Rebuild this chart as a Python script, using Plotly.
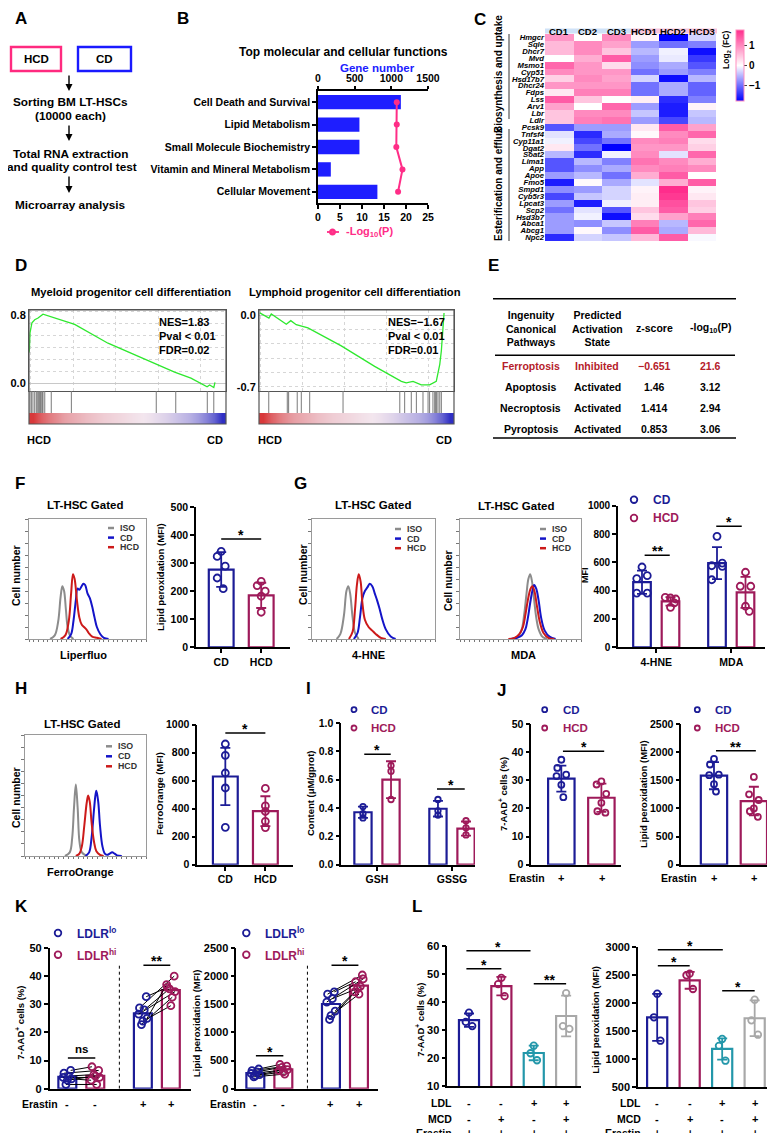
import plotly.graph_objects as go

# ======================= DATA =======================
# Panel B
b_functions = ["Cell Death and Survival", "Lipid Metabolism", "Small Molecule Biochemistry",
               "Vitamin and Mineral Metabolism", "Cellular Movement"]
b_gene_number = [1130, 565, 565, 175, 810]
b_neglog10_p = [17.9, 17.9, 17.8, 19.2, 18.2]

# Panel C
c_samples = ["CD1", "CD2", "CD3", "HCD1", "HCD2", "HCD3"]
c_genes = ["Hmgcr", "Sqle", "Dhcr7", "Mvd", "Msmo1", "Cyp51", "Hsd17b7", "Dhcr24", "Fdps", "Lss",
           "Arv1", "Lbr", "Ldlr", "Pcsk9", "Tnfsf4", "Cyp11a1", "Dgat2", "Soat2", "Lima1", "App",
           "Apoe", "Fmo5", "Smpd1", "Cyb5r3", "Lpcat3", "Scp2", "Hsd3b7", "Abca1", "Abcg1", "Npc2"]
c_log2fc = [
    [0.9, 0.0, 1.0, 0.1, -1.8, -0.3],
    [0.6, 1.0, 0.8, -0.7, -1.0, -0.9],
    [0.6, 1.0, 0.5, -0.5, -0.1, -1.7],
    [0.0, 0.7, 1.4, -0.7, -0.15, -1.4],
    [1.3, 0.9, 0.3, -0.8, -0.6, -1.2],
    [1.0, 0.9, 0.9, -1.0, -0.7, -0.9],
    [0.4, 1.0, 0.8, -0.3, -1.7, -0.5],
    [0.9, 0.9, 0.9, -1.0, -0.6, -1.1],
    [0.2, 1.1, 1.1, -1.0, -0.6, -1.1],
    [1.4, 0.5, 0.0, 0.15, -1.5, -0.9],
    [0.8, 0.0, 1.3, -0.7, -1.6, 0.1],
    [0.5, 1.0, 1.0, -0.4, -1.6, -0.4],
    [0.5, 1.1, 1.2, -0.7, -1.3, -0.5],
    [-1.2, -0.7, -0.7, 0.2, 1.4, 0.8],
    [-0.2, -1.5, -0.6, 0.05, 1.0, 1.3],
    [-0.1, -1.3, -1.0, 1.0, 1.1, 0.3],
    [0.2, -1.0, -1.8, 0.9, 0.9, 0.4],
    [-0.5, -1.5, -0.1, 1.0, -0.2, 1.3],
    [-1.2, -0.5, -0.9, 1.2, 1.0, 0.7],
    [-1.2, -0.8, -0.6, 1.0, 1.1, 1.0],
    [-0.7, -0.5, -1.0, 0.7, 1.4, 0.0],
    [-1.6, 0.05, -0.6, -0.2, 0.7, 1.4],
    [-0.8, -0.7, -0.3, 0.1, 1.8, 0.1],
    [-1.3, -0.4, -0.3, 0.15, 1.7, 0.2],
    [-0.7, -1.6, -0.1, 0.15, 1.5, 0.5],
    [-1.0, -0.2, -1.2, 0.5, 1.4, 0.4],
    [-0.7, -0.1, -1.7, 0.3, 0.8, 1.1],
    [-0.7, -0.8, -0.4, 1.1, -0.5, 1.3],
    [-0.7, 0.05, -0.8, 1.4, -0.6, 0.6],
    [-1.5, -0.3, -0.4, 0.6, 1.4, -0.05],
]

# Panel D (GSEA)
d_myeloid_rank = [0, 0.2, 0.5, 1.5, 2.9, 4.6, 7.1, 9.6, 12.2, 16.2, 23.2, 40.1, 56.9, 73.9, 82.2, 90.4, 91.7, 93.8, 94.4]
d_myeloid_es = [0.36, 0.39, 0.59, 0.71, 0.745, 0.765, 0.81, 0.79, 0.775, 0.745, 0.69, 0.47, 0.30, 0.13, 0.06, -0.04, -0.02, -0.05, 0.01]
d_myeloid_hits = [0.5, 1.2, 2.0, 2.9, 3.7, 4.2, 4.9, 5.4, 5.9, 6.2, 6.8, 7.1, 8.0, 11.3, 21.5, 64.6, 74.5, 90.5, 93.8]
d_lymphoid_rank = [0.4, 5.1, 6.3, 14.0, 16.3, 19.1, 25.1, 42.2, 59.3, 73.0, 75.5, 79.0, 83.2, 87.5, 90.9, 92.7, 93.5, 94.4, 94.9]
d_lymphoid_es = [0.02, -0.03, 0.01, -0.09, -0.055, -0.094, -0.126, -0.30, -0.50, -0.645, -0.66, -0.645, -0.68, -0.68, -0.645, -0.48, -0.35, -0.13, 0.02]
d_lymphoid_hits = [5.0, 14.5, 15.2, 19.6, 21.7, 26.0, 43.1, 72.2, 74.7, 78.1, 80.7, 84.1, 86.7, 87.5, 89.2,
                   90.1, 90.6, 91.1, 91.8, 92.7, 93.5]
d_ranked_metric = [3.0, 2.4, 2.0, 1.7, 1.4, 1.2, 1.0, 0.8, 0.65, 0.5, 0.4, 0.3, 0.2, 0.1, 0.0, -0.1,
                   -0.25, -0.4, -0.6, -0.8, -1.0, -1.3, -1.7, -2.2, -3.0]
d_myeloid_stats = ["NES=1.83", "Pval &lt; 0.01", "FDR=0.02"]
d_lymphoid_stats = ["NES=\u22121.67", "Pval &lt; 0.01", "FDR=0.01"]

# Panel E
e_columns = ["Ingenuity<br>Canonical<br>Pathways", "Predicted<br>Activation<br>State", "z-score", "-log<sub>10</sub>(P)"]
e_pathways = ["Ferroptosis", "Apoptosis", "Necroptosis", "Pyroptosis"]
e_state = ["Inhibited", "Activated", "Activated", "Activated"]
e_zscore = ["\u22120.651", "1.46", "1.414", "0.853"]
e_log10p = ["21.6", "3.12", "2.94", "3.06"]

# Flow histograms (x: relative log fluorescence, y: % of max)
f_iso_x = [18, 22, 25, 27, 28.5, 30, 31.5, 33, 35, 38]
f_iso_y = [0, 3, 15, 35, 44, 40, 25, 10, 3, 0]
f_cd_x = [33, 36, 38, 40, 41.5, 43, 45, 46.5, 48, 50, 52, 54, 56, 58, 61, 64, 68]
f_cd_y = [0, 4, 15, 32, 42, 41, 44, 46, 45, 38, 34, 27, 18, 10, 4, 1, 0]
f_hcd_x = [27, 31, 34, 36, 37.6, 39, 41, 43, 45, 47, 49, 51, 54, 58, 62]
f_hcd_y = [0, 3, 15, 38, 54, 50, 32, 18, 12, 10, 8, 5, 2, 1, 0]

g_hne_iso_x = [20, 23, 26, 28, 29.5, 31, 33, 35, 38]
g_hne_iso_y = [0, 4, 20, 40, 44, 38, 18, 5, 0]
g_hne_cd_x = [34, 37, 39, 41, 43, 45, 47, 49, 51, 53, 55, 57, 60, 64, 68]
g_hne_cd_y = [0, 5, 18, 34, 40, 43, 46, 44, 38, 32, 25, 17, 8, 2, 0]
g_hne_hcd_x = [30, 33, 35, 36.5, 38, 39.5, 41, 43, 46, 49, 52, 56, 60]
g_hne_hcd_y = [0, 6, 25, 45, 54, 48, 30, 16, 10, 7, 4, 1, 0]

g_mda_iso_x = [44, 48, 51, 53, 55, 56.5, 58, 59.5, 61, 63, 65, 68, 72]
g_mda_iso_y = [0, 2, 8, 20, 38, 50, 54, 48, 35, 18, 8, 2, 0]
g_mda_cd_x = [42, 47, 51, 54, 56, 58, 60, 61.3, 63, 65, 67, 70, 74, 79]
g_mda_cd_y = [0, 1, 3, 8, 17, 30, 41, 45, 42, 32, 18, 7, 2, 0]
g_mda_hcd_x = [40, 45, 49, 52, 54, 56, 58, 59.7, 61.5, 63.5, 66, 69, 73, 78]
g_mda_hcd_y = [0, 1, 4, 10, 20, 32, 41, 44, 40, 28, 14, 5, 1, 0]

h_iso_x = [33, 37, 39, 40.5, 42, 43.5, 45, 47, 51]
h_iso_y = [0, 3, 15, 40, 59, 40, 12, 3, 0]
h_cd_x = [50, 53, 55, 57, 58.2, 59, 60.5, 62, 64, 66, 68, 70, 72, 74, 76, 80]
h_cd_y = [0, 3, 15, 38, 50, 54, 45, 25, 8, 2, 1, 2, 3, 2, 0.5, 0]
h_hcd_x = [42, 45, 47, 49, 51, 52.2, 53.5, 55, 57, 59, 62, 65]
h_hcd_y = [0, 2, 8, 25, 44, 50, 45, 28, 12, 4, 1, 0]

# Panel F bars: lipid peroxidation (MFI)
f_groups = ["CD", "HCD"]
f_mean = [277, 185]
f_sd = [62, 45]
f_cd_pts = [342, 324, 289, 247, 209]
f_hcd_pts = [235, 220, 200, 182, 125]

# Panel G bars: MFI
g_markers = ["4-HNE", "MDA"]
g_cd_mean = [460, 595]
g_cd_sd = [82, 113]
g_hcd_mean = [325, 388]
g_hcd_sd = [30, 109]
g_cd_pts = [[567, 485, 506, 383, 383], [784, 576, 595, 477, 572]]
g_hcd_pts = [[348, 353, 341, 282, 313], [530, 431, 431, 290, 254]]

# Panel H bars: FerroOrange (MFI)
h_groups = ["CD", "HCD"]
h_mean = [630, 382]
h_sd = [205, 107]
h_cd_pts = [862, 781, 655, 548, 267]
h_hcd_pts = [545, 420, 380, 310, 265]

# Panel I: content (uM/gprot)
i_metabolites = ["GSH", "GSSG"]
i_cd_mean = [0.37, 0.395]
i_cd_sd = [0.04, 0.055]
i_hcd_mean = [0.60, 0.255]
i_hcd_sd = [0.13, 0.05]
i_cd_pts = [[0.41, 0.36, 0.33], [0.46, 0.38, 0.35]]
i_hcd_pts = [[0.70, 0.66, 0.46], [0.31, 0.26, 0.21]]

# Panel J (Erastin treated)
j_aad_mean = [30.6, 23.8]
j_aad_sd = [4.6, 5.0]
j_aad_cd = [37.3, 34.4, 32.0, 31.5, 28.4, 24.0]
j_aad_hcd = [29.6, 28.5, 25.2, 22.0, 19.0, 18.5]
j_lip_mean = [1581, 1130]
j_lip_sd = [240, 255]
j_lip_cd = [1880, 1780, 1600, 1590, 1430, 1300]
j_lip_hcd = [1560, 1250, 1150, 1000, 950, 850]

# Panel K (paired LDLR lo / hi)
k_erastin = ["-", "-", "+", "+"]
k_aad_mean = [4.2, 4.6, 26.8, 35.0]
k_aad_lo_minus = [6.5, 5.5, 4.5, 4.0, 3.5, 3.0, 1.5]
k_aad_hi_minus = [7.8, 6.5, 5.0, 4.0, 3.0, 4.5, 1.5]
k_aad_lo_plus = [32.7, 28.7, 28.0, 26.5, 25.0, 24.0, 22.8]
k_aad_hi_plus = [36.0, 40.0, 35.5, 34.5, 37.0, 29.5, 32.5]
k_lip_mean = [275, 345, 1505, 1830]
k_lip_lo_minus = [350, 320, 300, 270, 250, 230, 210]
k_lip_hi_minus = [430, 400, 380, 340, 320, 300, 260]
k_lip_lo_plus = [1720, 1680, 1600, 1540, 1380, 1300, 1230]
k_lip_hi_plus = [1900, 2020, 1780, 1950, 1720, 1680, 1820]

# Panel L
l_ldl = ["-", "-", "+", "+"]
l_mcd = ["-", "+", "-", "+"]
l_erastin = ["+", "+", "+", "+"]
l_aad_mean = [33.6, 45.8, 21.9, 35.1]
l_aad_sd = [2.4, 3.3, 2.6, 7.3]
l_aad_pts = [[36.3, 33.0, 31.5], [48.7, 46.5, 42.2], [24.5, 21.8, 19.3], [43.3, 31.5, 30.5]]
l_lip_mean = [1750, 2410, 1185, 1733]
l_lip_sd = [420, 150, 190, 320]
l_lip_pts = [[2171, 1750, 1332], [2529, 2500, 2255], [1363, 1240, 975], [2064, 1696, 1439]]

# ======================= STYLE / HELPERS =======================
W, H = 775, 1133
FONT = "Liberation Sans, Arial, Helvetica, sans-serif"
NAVY = "#1c1c96"
MAROON = "#9e1a5a"
TEAL = "#2397aa"
GREY = "#a8a8a8"
H_ISO, H_CD, H_HCD = "#8c8c8c", "#1414c8", "#cc1a1a"
L_COLORS = [NAVY, MAROON, TEAL, GREY]
TICK_FS = 10.5
YT_FS = 9.5

fig = go.Figure()
annotations, shapes, axes = [], [], {}
counter = [0]


def px_x(p):
    return p / W


def px_y(p):
    return 1 - p / H


def add_axes(xpx, ypx, xkw, ykw):
    counter[0] += 1
    n = counter[0]
    s = "" if n == 1 else str(n)
    xk, yk = dict(xkw), dict(ykw)
    xk.update(domain=[px_x(xpx[0]), px_x(xpx[1])], anchor="y" + s)
    yk.update(domain=[px_y(ypx[1]), px_y(ypx[0])], anchor="x" + s)
    axes["xaxis" + s] = xk
    axes["yaxis" + s] = yk
    return "x" + s, "y" + s


def txt(x, y, s, size=10, color="black", xa="center", ya="middle", angle=0, bold=True):
    annotations.append(dict(x=px_x(x), y=px_y(y), xref="paper", yref="paper",
                            text=f"<b>{s}</b>" if bold else s, showarrow=False,
                            font=dict(family=FONT, size=size, color=color),
                            xanchor=xa, yanchor=ya, textangle=angle))


def pline(x0, y0, x1, y1, color="black", width=1.5, dash=None):
    shapes.append(dict(type="line", xref="paper", yref="paper", x0=px_x(x0), y0=px_y(y0),
                       x1=px_x(x1), y1=px_y(y1), line=dict(color=color, width=width, dash=dash)))


def prect(x0, y0, x1, y1, color, width=2, fill="rgba(0,0,0,0)"):
    shapes.append(dict(type="rect", xref="paper", yref="paper", x0=px_x(x0), y0=px_y(y1),
                       x1=px_x(x1), y1=px_y(y0), line=dict(color=color, width=width), fillcolor=fill))


def pcircle(x, y, r, color, width=1.8):
    shapes.append(dict(type="circle", xref="paper", yref="paper", x0=px_x(x - r), y0=px_y(y + r),
                       x1=px_x(x + r), y1=px_y(y - r), line=dict(color=color, width=width)))


def base_axis(**kw):
    d = dict(showgrid=False, zeroline=False, showline=True, linecolor="black", linewidth=1.6,
             ticks="outside", ticklen=4, tickwidth=1.6, tickcolor="black",
             tickfont=dict(family=FONT, size=TICK_FS, color="black", weight="bold"), fixedrange=True)
    d.update(kw)
    return d


def bar_axes(xpx, ypx, xrange, yrange, dtick, tickvals=None, ticktext=None, yfmt=None, tfs=TICK_FS):
    xk = base_axis(range=xrange, tickvals=tickvals or [], ticktext=ticktext or [],
                   showticklabels=bool(tickvals), ticks="outside" if tickvals else "")
    yk = base_axis(range=yrange, dtick=dtick, tickformat=yfmt,
                   tickfont=dict(family=FONT, size=tfs, color="black", weight="bold"))
    return add_axes(xpx, ypx, xk, yk)


def add_bar(xa, ya, x, mean, sd, color, width, pts=None, jit=None, msize=7, errw=5):
    fig.add_trace(go.Bar(x=[x], y=[mean], width=width,
                         marker=dict(color="rgba(255,255,255,0)", line=dict(color=color, width=2.2)),
                         error_y=dict(type="data", array=[sd] if sd is not None else [0],
                                      visible=sd is not None, color=color, thickness=1.8, width=errw),
                         xaxis=xa, yaxis=ya, showlegend=False, hoverinfo="skip"))
    if pts:
        jit = jit or [0] * len(pts)
        fig.add_trace(go.Scatter(x=[x + j for j in jit[:len(pts)]], y=pts, mode="markers",
                                 marker=dict(symbol="circle-open", size=msize, color=color,
                                             line=dict(width=1.8)),
                                 xaxis=xa, yaxis=ya, showlegend=False, hoverinfo="skip",
                                 cliponaxis=False))


def sig(xa, ya, x0, x1, yv, label, size=14, shift=-6):
    shapes.append(dict(type="line", xref=xa, yref=ya, x0=x0, x1=x1, y0=yv, y1=yv,
                       line=dict(color="black", width=1.5)))
    annotations.append(dict(x=(x0 + x1) / 2, y=yv, xref=xa, yref=ya, text=f"<b>{label}</b>",
                            showarrow=False, yanchor="bottom", yshift=shift,
                            font=dict(family=FONT, size=size, color="black")))


def hist_panel(xpx, ypx, curves):
    xk = dict(range=[0, 100], showgrid=False, zeroline=False, showline=True, mirror=True,
              linecolor="#9a9a9a", linewidth=1, ticks="outside", ticklen=2, dtick=4,
              tickcolor="#777", showticklabels=False, fixedrange=True)
    yk = dict(range=[0, 100], showgrid=False, zeroline=False, showline=True, mirror=True,
              linecolor="#9a9a9a", linewidth=1, ticks="outside", ticklen=3, dtick=10,
              tickcolor="#777", showticklabels=False, fixedrange=True)
    xa, ya = add_axes(xpx, ypx, xk, yk)
    for xs, ys, col in curves:
        fig.add_trace(go.Scatter(x=xs, y=ys, mode="lines", line=dict(color=col, width=2, shape="spline"),
                                 xaxis=xa, yaxis=ya, showlegend=False, hoverinfo="skip"))
    return xa, ya


def hist_legend(x, y0, dy=9.6):
    for i, (lab, col) in enumerate([("ISO", H_ISO), ("CD", H_CD), ("HCD", H_HCD)]):
        yy = y0 + i * dy
        pline(x, yy, x + 6, yy, col, 2.5)
        txt(x + 10, yy, lab, 8.8, "#333", xa="left")


def legend2(x, y0, labels, colors, r=3.2, size=11.5, dy=18.3, gap=17):
    for i, (lab, col) in enumerate(zip(labels, colors)):
        yy = y0 + i * dy
        pcircle(x, yy, r, col)
        txt(x + gap, yy, lab, size, col, xa="left")


# ======================= PANEL LETTERS =======================
for lab, x, y in [("A", 13, 11), ("B", 175, 11), ("C", 472, 12), ("D", 13, 258), ("E", 485, 258),
                  ("F", 12, 475), ("G", 292, 475), ("H", 13, 680), ("I", 300, 680), ("J", 493, 682),
                  ("K", 13, 898), ("L", 409, 898)]:
    txt(x, y, lab, 17)

# ======================= PANEL A =======================
prect(3, 39, 53, 63, "#ff2a7f", 2.4)
prect(70, 39, 123, 63, "#1a1aff", 2.4)
txt(28, 51.5, "HCD", 11.5)
txt(96.5, 51.5, "CD", 11.5)
for y0, y1 in [(66, 83), (116, 133), (167, 185)]:
    annotations.append(dict(x=px_x(61), y=px_y(y1), xref="paper", yref="paper", ax=0, ay=-(y1 - y0),
                            showarrow=True, arrowhead=2, arrowsize=1, arrowwidth=1.4, arrowcolor="black",
                            text=""))
txt(62, 94, "Sorting BM LT-HSCs", 11.8)
txt(63, 108, "(10000 each)", 11.8)
txt(63, 146, "Total RNA extraction", 11.8)
txt(64, 159.5, "and quality control test", 11.8)
txt(63, 197, "Microarray analysis", 11.8)

# ======================= PANEL B =======================
xb_top, yb = add_axes((310, 420), (83, 195),
                      base_axis(range=[0, 1500], tickvals=[0, 500, 1000, 1500], side="top", linewidth=1.5,
                                ticklen=3),
                      base_axis(type="category", categoryorder="array", categoryarray=b_functions,
                                range=[4.5, -0.5], linewidth=1.5,
                                tickfont=dict(family=FONT, size=10.5, color="black", weight="bold")))
counter[0] += 1
xb_bot = "x" + str(counter[0])
axes["xaxis" + str(counter[0])] = base_axis(range=[0, 25], tickvals=[0, 5, 10, 15, 20, 25], side="bottom",
                                            overlaying=xb_top, anchor=yb, linewidth=1.5,
                                            domain=[px_x(310), px_x(420)])
fig.add_trace(go.Bar(y=b_functions, x=b_gene_number, orientation="h", width=0.64,
                     marker=dict(color="#1e1eff", line=dict(width=0)), xaxis=xb_top, yaxis=yb,
                     showlegend=False))
fig.add_trace(go.Scatter(y=b_functions, x=b_neglog10_p, mode="lines+markers",
                         line=dict(color="#ff2d87", width=2), marker=dict(size=6, color="#ff2d87"),
                         xaxis=xb_bot, yaxis=yb, showlegend=False))
txt(335, 44, "Top molecular and cellular functions", 12)
txt(369, 60, "Gene number", 11.5, "#2020ff")
pline(319, 224, 331, 224, "#ff2d87", 1.8)
pcircle(324.5, 224, 2.2, "#ff2d87", 2.5)
txt(336, 224, "-Log<sub>10</sub>(P)", 11, "#ff2d87", xa="left")

# ======================= PANEL C =======================
xc, yc = add_axes((537, 709), (26, 233),
                  dict(type="category", showticklabels=False, ticks="", showline=False, showgrid=False,
                       zeroline=False, fixedrange=True),
                  dict(type="category", autorange="reversed", tickmode="array", tickvals=c_genes,
                       ticktext=c_genes, ticks="", showline=False, showgrid=False, zeroline=False,
                       tickfont=dict(family=FONT, size=7.7, color="black", style="italic", weight="bold"),
                       fixedrange=True))
fig.add_trace(go.Heatmap(z=c_log2fc, x=c_samples, y=c_genes, zmin=-1.8, zmax=1.8,
                         colorscale=[[0, "#0000ff"], [0.5, "#ffffff"], [1, "#ff2d8c"]],
                         xaxis=xc, yaxis=yc, hoverinfo="skip",
                         colorbar=dict(x=px_x(728), xanchor="left", y=px_y(57.5), yanchor="middle",
                                       len=71, lenmode="pixels", thickness=8, thicknessmode="pixels",
                                       tickvals=[-1, 0, 1], ticks="outside", ticklen=3,
                                       tickfont=dict(family=FONT, size=10, color="black", weight="bold"),
                                       outlinewidth=1, outlinecolor="#ff8fc0", xpad=0, ypad=0)))
for s in c_samples:
    annotations.append(dict(x=s, y=px_y(15.5), xref=xc, yref="paper", text=f"<b>{s}</b>", showarrow=False,
                            font=dict(family=FONT, size=9.5, color="black")))
prect(537, 20.5, 623, 25.5, "rgba(0,0,0,0)", 0, "#cfe2f8")
prect(623, 20.5, 709, 25.5, "rgba(0,0,0,0)", 0, "#f9c3dc")
pline(501, 26, 501, 111, "#777", 1.5)
pline(501, 121, 501, 233, "#777", 1.5)
txt(491, 66, "Biosynthesis and uptake", 10, angle=-90)
txt(491, 176, "Esterification and efflux", 10, angle=-90)
txt(718, 42, "Log<sub>2</sub> (FC)", 8.5, angle=-90)

# ======================= PANEL D =======================
gsea = [
    (21, 218, d_myeloid_rank, d_myeloid_es, d_myeloid_hits, [-0.09, 0.859], [0, 0.8], ["0.0", "0.8"],
     "Myeloid progenitor cell differentiation", 123, d_myeloid_stats, 149, 31, 207),
    (251, 446, d_lymphoid_rank, d_lymphoid_es, d_lymphoid_hits, [-0.739, 0.0486], [-0.7, 0],
     ["-0.7", "0.0"], "Lymphoid progenitor cell differentiation", 347, d_lymphoid_stats, 378, 262, 436),
]
for (x0, x1, rk, es, hits, yr, tv, tt, title, tcx, stats, sx, hcx, ccx) in gsea:
    xa, ya = add_axes((x0, x1), (302, 383),
                      dict(range=[0, 100], showticklabels=False, ticks="", showgrid=False, zeroline=False,
                           showline=True, mirror=True, linecolor="#555", linewidth=1, fixedrange=True,
                           minor=dict(showgrid=True, gridcolor="#d6d6d6", griddash="dot", tick0=1, dtick=21.5)),
                      dict(range=yr, tickvals=tv, ticktext=tt, showline=True, mirror=True, linecolor="#555",
                           linewidth=1, ticks="", showgrid=False, zeroline=True, zerolinecolor="#c8c8c8",
                           zerolinewidth=1, fixedrange=True,
                           tickfont=dict(family=FONT, size=11, color="black", weight="bold"),
                           minor=dict(showgrid=True, gridcolor="#d6d6d6", griddash="dot", dtick=0.14)))
    fig.add_trace(go.Scatter(x=rk, y=es, mode="lines", line=dict(color="#2ee82e", width=1.3),
                             xaxis=xa, yaxis=ya, showlegend=False, hoverinfo="skip"))
    xh, yh = add_axes((x0, x1), (383, 405),
                      dict(range=[0, 100], visible=False, fixedrange=True),
                      dict(range=[0, 1], visible=False, fixedrange=True))
    hx, hy = [], []
    for h in hits:
        hx += [h, h, None]
        hy += [0, 1, None]
    fig.add_trace(go.Scatter(x=hx, y=hy, mode="lines", line=dict(color="#7a7a7a", width=1),
                             xaxis=xh, yaxis=yh, showlegend=False, hoverinfo="skip"))
    xg, yg = add_axes((x0, x1), (405, 416),
                      dict(range=[0, 100], visible=False, fixedrange=True),
                      dict(range=[-0.5, 0.5], visible=False, fixedrange=True))
    dx = 100 / len(d_ranked_metric)
    fig.add_trace(go.Heatmap(z=[d_ranked_metric], x0=dx / 2, dx=dx, y=[0], zmid=0, zsmooth="best",
                             colorscale=[[0, "#2f2fc4"], [0.3, "#a9a3e0"], [0.5, "#f3e6ee"],
                                         [0.75, "#e69aa0"], [1, "#d8383a"]],
                             showscale=False, xaxis=xg, yaxis=yg, hoverinfo="skip"))
    prect(x0, 302, x1, 416, "#555", 1.2)
    txt(tcx, 284, title, 11.2)
    for i, s in enumerate(stats):
        txt(sx, 314 + 14 * i, s, 11, xa="left")
    txt(hcx, 432, "HCD", 11)
    txt(ccx, 432, "CD", 11)

# ======================= PANEL E =======================
col_x = [522.7, 589, 646, 702]
pline(485, 290.7, 728, 290.7, "black", 1.6)
pline(487, 347.3, 727, 347.3, "black", 1.6)
pline(485, 430, 728, 430, "black", 1.6)
for cx, head in zip(col_x, e_columns):
    txt(cx, 320, head, 10.5)
for i, (p, s, z, lp) in enumerate(zip(e_pathways, e_state, e_zscore, e_log10p)):
    col = "#b5202a" if i == 0 else "black"
    yy = 358.3 + 21 * i
    for cx, v in zip(col_x, [p, s, z, lp]):
        txt(cx, yy, v, 10.5, col)

# ======================= PANEL F =======================
hist_panel((21, 138), (511, 631), [(f_iso_x, f_iso_y, H_ISO), (f_cd_x, f_cd_y, H_CD),
                                   (f_hcd_x, f_hcd_y, H_HCD)])
hist_legend(100, 520)
txt(77, 497, "LT-HSC Gated", 11.5)
txt(8, 568, "Cell number", 10.5, angle=-90)
txt(75, 647, "Liperfluo", 11)

xa, ya = bar_axes((188, 282), (499, 639.3), [-0.63, 1.72], [0, 500], 100, [0, 1], f_groups)
add_bar(xa, ya, 0, f_mean[0], f_sd[0], NAVY, 0.62, f_cd_pts, [0, -0.1, 0.1, -0.1, 0.05])
add_bar(xa, ya, 1, f_mean[1], f_sd[1], MAROON, 0.62, f_hcd_pts, [0, -0.1, 0.1, 0, 0])
sig(xa, ya, 0, 1, 386, "*")
txt(152, 569, "Lipid peroxidation (MFI)", YT_FS, angle=-90)

# ======================= PANEL G =======================
hist_panel((304, 427), (511, 631), [(g_hne_iso_x, g_hne_iso_y, H_ISO), (g_hne_cd_x, g_hne_cd_y, H_CD),
                                    (g_hne_hcd_x, g_hne_hcd_y, H_HCD)])
hist_legend(387, 521)
txt(365, 497, "LT-HSC Gated", 11.5)
txt(295, 567, "Cell number", 10.5, angle=-90)
txt(360, 647, "4-HNE", 11)
hist_panel((452, 573), (511, 631), [(g_mda_iso_x, g_mda_iso_y, H_ISO), (g_mda_cd_x, g_mda_cd_y, H_CD),
                                    (g_mda_hcd_x, g_mda_hcd_y, H_HCD)])
hist_legend(532, 521)
txt(508, 498, "LT-HSC Gated", 11.5)
txt(440, 573, "Cell number", 10.5, angle=-90)
txt(515, 647, "MDA", 11)

xa, ya = bar_axes((610, 757), (497.7, 639.3), [-0.51, 1.45], [0, 1000], 200, [0, 1], g_markers, tfs=10)
for gi in range(2):
    add_bar(xa, ya, gi - 0.19, g_cd_mean[gi], g_cd_sd[gi], NAVY, 0.235, g_cd_pts[gi],
            [0, -0.07, 0.07, -0.07, 0.07])
    add_bar(xa, ya, gi + 0.19, g_hcd_mean[gi], g_hcd_sd[gi], MAROON, 0.235, g_hcd_pts[gi],
            [0, -0.07, 0.07, 0, 0.05])
sig(xa, ya, -0.155, 0.18, 650, "**")
sig(xa, ya, 0.8, 1.14, 855, "*")
legend2(626, 491.7, ["CD", "HCD"], [NAVY, MAROON], r=3.3, size=12)
txt(577, 567, "MFI", 9, angle=-90)

# ======================= PANEL H =======================
hist_panel((17, 138), (727, 848), [(h_iso_x, h_iso_y, H_ISO), (h_cd_x, h_cd_y, H_CD),
                                   (h_hcd_x, h_hcd_y, H_HCD)])
hist_legend(98, 738.3, 10)
txt(74, 716, "LT-HSC Gated", 11.5)
txt(8, 790, "Cell number", 10.5, angle=-90)
txt(72, 864, "FerroOrange", 11)

xa, ya = bar_axes((189.3, 285), (716.7, 856.7), [-0.7, 1.69], [0, 1000], 200, [0, 1], h_groups)
add_bar(xa, ya, 0, h_mean[0], h_sd[0], NAVY, 0.62, h_cd_pts, [0, 0, 0, 0, 0])
add_bar(xa, ya, 1, h_mean[1], h_sd[1], MAROON, 0.62, h_hcd_pts, [0, 0, 0, 0, 0])
sig(xa, ya, 0, 1.0, 941, "*")
txt(151, 786, "FerroOrange (MFI)", YT_FS, angle=-90)

# ======================= PANEL I =======================
xa, ya = bar_axes((333.3, 467), (715, 856.7), [-0.476, 1.307], [0, 1.0], 0.2, [0, 1], i_metabolites,
                  yfmt=".1f")
for gi in range(2):
    add_bar(xa, ya, gi - 0.187, i_cd_mean[gi], i_cd_sd[gi], NAVY, 0.23, i_cd_pts[gi], [0, 0, 0], msize=5.5)
    add_bar(xa, ya, gi + 0.187, i_hcd_mean[gi], i_hcd_sd[gi], MAROON, 0.23, i_hcd_pts[gi], [0, 0, 0],
            msize=5.5)
sig(xa, ya, -0.17, 0.183, 0.78, "*")
sig(xa, ya, 0.8, 1.17, 0.534, "*")
legend2(346, 701.7, ["CD", "HCD"], [NAVY, MAROON], r=2.5, gap=15)
txt(302, 786, "Content (\u03bcM/gprot)", YT_FS, angle=-90)

# ======================= PANEL J =======================
xa, ya = bar_axes((523.3, 613), (716, 856.7), [-0.75, 1.49], [0, 50], 10)
add_bar(xa, ya, 0, j_aad_mean[0], j_aad_sd[0], NAVY, 0.66, j_aad_cd, [0, -0.1, 0.12, -0.12, 0.0, 0.05],
        msize=6)
add_bar(xa, ya, 1, j_aad_mean[1], j_aad_sd[1], MAROON, 0.66, j_aad_hcd, [0, -0.12, 0.12, 0, -0.1, 0.1],
        msize=6)
sig(xa, ya, 0.04, 1.07, 40.3, "*")
legend2(536.7, 701.7, ["CD", "HCD"], [NAVY, MAROON], r=2.5, gap=16)
txt(495, 786, "7-AAD<sup>+</sup> cells (%)", YT_FS, angle=-90)
txt(519, 870, "Erastin", 10.5)
txt(553.3, 870, "+", 11)
txt(594, 870, "+", 11)

xa, ya = bar_axes((673.3, 763), (716, 856.7), [-0.82, 1.43], [0, 2500], 500)
add_bar(xa, ya, 0, j_lip_mean[0], j_lip_sd[0], NAVY, 0.66, j_lip_cd, [0, -0.1, 0.12, -0.12, 0.0, 0.05],
        msize=6)
add_bar(xa, ya, 1, j_lip_mean[1], j_lip_sd[1], MAROON, 0.66, j_lip_hcd, [0, -0.12, 0.12, 0, -0.1, 0.1],
        msize=6)
sig(xa, ya, 0.05, 1.05, 2026, "**")
legend2(689.3, 701.7, ["CD", "HCD"], [NAVY, MAROON], r=2.5, gap=16)
txt(635, 786, "Lipid peroxidation (MFI)", YT_FS, angle=-90)
txt(671, 870, "Erastin", 10.5)
txt(706, 870, "+", 11)
txt(746, 870, "+", 11)

# ======================= PANEL K =======================
k_pos = [0, 1, 2.7, 3.7]
k_jit = [0.12, -0.12, 0.05, -0.15, 0.15, 0.0, -0.05]
k_sets = [
    ((41.7, 182.7), [-0.63, 4.41], [0, 50], 10, k_aad_mean,
     [k_aad_lo_minus, k_aad_hi_minus, k_aad_lo_plus, k_aad_hi_plus], 44, 10.9, "ns", 43.9, "**",
     50, 11.7, "7-AAD<sup>+</sup> cells (%)", 32, [59.3, 87.3, 134.7, 163.3]),
    ((228.3, 370), [-0.68, 4.38], [0, 2500], 500, k_lip_mean,
     [k_lip_lo_minus, k_lip_hi_minus, k_lip_lo_plus, k_lip_hi_plus], 2200, 586, "*", 2193, "*",
     238.3, 188.3, "Lipid peroxidation (MFI)", 220, [247.3, 275.3, 322, 350.7]),
]
for (xpx, xr, yr, dt, means, pts, sep_top, s1y, s1, s2y, s2, legx, ylabx, ylab, erx, sym_x) in k_sets:
    xa, ya = bar_axes(xpx, (940, 1080.7), xr, yr, dt, tfs=11)
    cols = [NAVY, MAROON, NAVY, MAROON]
    for gi in range(4):
        add_bar(xa, ya, k_pos[gi], means[gi], None, cols[gi], 0.64)
    for a, b in [(0, 1), (2, 3)]:
        lx, ly = [], []
        for v1, v2, j in zip(pts[a], pts[b], k_jit):
            lx += [k_pos[a] + j, k_pos[b] - j, None]
            ly += [v1, v2, None]
        fig.add_trace(go.Scatter(x=lx, y=ly, mode="lines", line=dict(color="black", width=1),
                                 xaxis=xa, yaxis=ya, showlegend=False, hoverinfo="skip"))
    for gi in range(4):
        sgn = 1 if gi in (0, 2) else -1
        fig.add_trace(go.Scatter(x=[k_pos[gi] + sgn * j for j in k_jit], y=pts[gi], mode="markers",
                                 marker=dict(symbol="circle-open", size=7, color=cols[gi], line=dict(width=1.8)),
                                 xaxis=xa, yaxis=ya, showlegend=False, hoverinfo="skip"))
    shapes.append(dict(type="line", xref=xa, yref=ya, x0=1.86, x1=1.86, y0=0, y1=sep_top,
                       line=dict(color="black", width=1, dash="dot")))
    sig(xa, ya, 0.02, 1.0, s1y, s1, size=14 if s1 != "ns" else 11.5, shift=-6 if s1 != "ns" else 1)
    sig(xa, ya, 2.72, 3.68, s2y, s2)
    legend2(legx, 925, ["LDLR<sup>lo</sup>", "LDLR<sup>hi</sup>"], [NAVY, MAROON], r=3.3, dy=21.7, size=12)
    txt(ylabx, 1015, ylab, YT_FS, angle=-90)
    txt(erx, 1096, "Erastin", 10.5)
    for sx_, sym in zip(sym_x, k_erastin):
        txt(sx_, 1096, sym, 11)

# ======================= PANEL L =======================
l_sets = [
    ((439.3, 572.7), [-0.67, 3.45], [10, 60], 10, l_aad_mean, l_aad_sd, l_aad_pts,
     [(-0.08, 1.9, 58.4, "*"), (-0.08, 1.0, 52.0, "*"), (2.0, 3.0, 46.6, "**")],
     (938.3, 1078.3), 411.7, "7-AAD<sup>+</sup> cells (%)", [461, 493.3, 526, 558.3], 446),
    ((630, 760), [-0.59, 3.41], [500, 3000], 500, l_lip_mean, l_lip_sd, l_lip_pts,
     [(0.02, 2.02, 2957, "*"), (0.02, 1.0, 2671, "*"), (2.0, 3.0, 2225, "*")],
     (939.3, 1079.3), 586.7, "Lipid peroxidation (MFI)", [649.3, 681.7, 714.3, 746.7], 635),
]
for (xpx, xr, yr, dt, means, sds, pts, sigs, ypx, ylabx, ylab, sym_x, lab_right) in l_sets:
    xa, ya = bar_axes(xpx, ypx, xr, yr, dt, tfs=11)
    for gi in range(4):
        add_bar(xa, ya, gi, means[gi], sds[gi], L_COLORS[gi], 0.62, pts[gi], [0, -0.1, 0.1], msize=6.5)
    for (a, b, yv, lab) in sigs:
        sig(xa, ya, a, b, yv, lab)
    txt(ylabx, 1012, ylab, YT_FS, angle=-90)
    for row_y, row_lab, row_vals in [(1095, "LDL", l_ldl), (1111, "MCD", l_mcd), (1125, "Erastin", l_erastin)]:
        txt(lab_right, row_y, row_lab, 10.5, xa="right")
        for sx_, sym in zip(sym_x, row_vals):
            txt(sx_, row_y, sym, 11)

# ======================= LAYOUT =======================
fig.update_layout(
    width=W, height=H, margin=dict(l=0, r=0, t=0, b=0),
    paper_bgcolor="white", plot_bgcolor="rgba(0,0,0,0)",
    template="none", showlegend=False, barmode="overlay",
    font=dict(family=FONT, size=10, color="black"),
    annotations=annotations, shapes=shapes, **axes,
)
fig.write_html("out.html")
